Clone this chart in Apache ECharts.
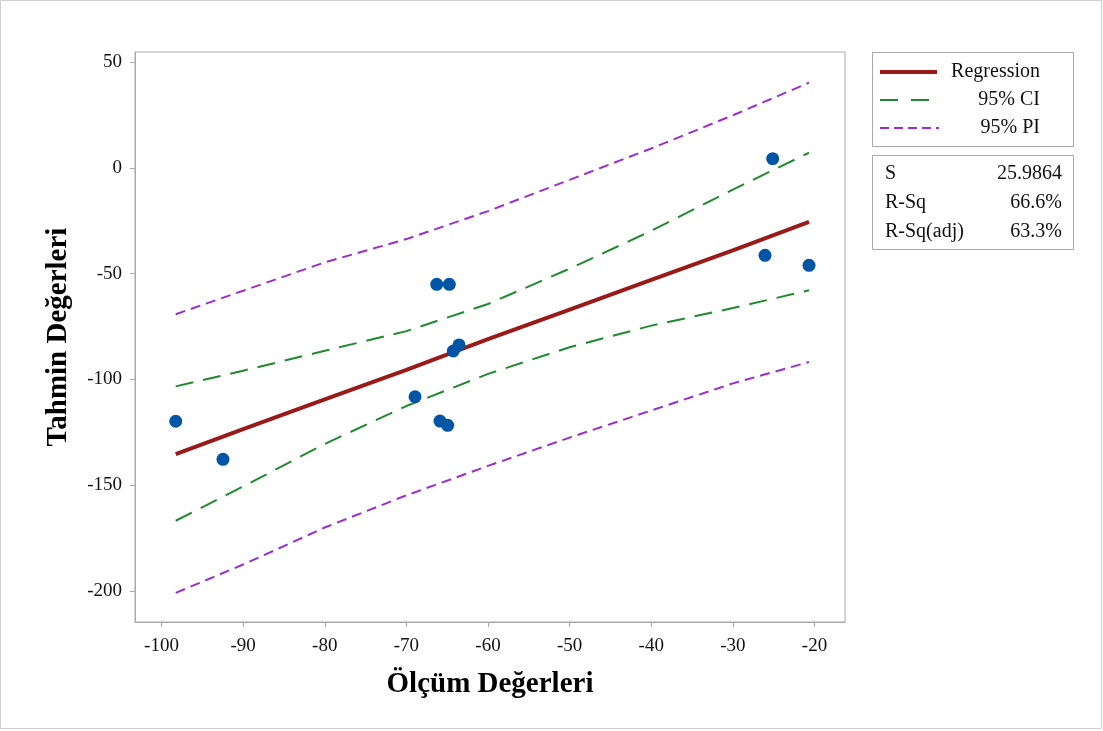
<!DOCTYPE html>
<html>
<head>
<meta charset="utf-8">
<script src="https://cdn.jsdelivr.net/npm/echarts@6/dist/echarts.min.js"></script>
<style>html,body{margin:0;padding:0;background:#fff}#c{width:1103px;height:731px}</style>
</head>
<body>
<div id="c"></div>
<script>
// ---- data ----
const obsX = [-98.26, -92.47, -68.94, -66.28, -64.74, -65.88, -64.94, -64.25, -63.55, -26.06, -25.12, -20.67];
const obsY = [-119.8, -137.8, -108.2, -55.1, -55.1, -119.7, -121.7, -86.6, -83.7, -41.4, 4.3, -46.1];
const fitX       = [-98.26, -90, -80, -70, -60, -50, -40, -30, -20.67];
const regression = [-135.3, -123.5, -109.5, -95.5, -81.0, -67.0, -53.0, -39.0, -25.6];
const ciUpper    = [-103.3, -95.9, -86.5, -77.2, -64.4, -47.7, -29.8, -10.3, 7.1];
const ciLower    = [-166.8, -150.6, -130.5, -112.6, -97.4, -84.8, -74.6, -66.3, -57.9];
const piUpper    = [-69.2, -58.1, -44.7, -33.7, -20.5, -5.7, 9.1, 24.8, 40.2];
const piLower    = [-200.9, -187.5, -170.0, -154.8, -140.9, -127.5, -114.7, -101.9, -91.8];
const xTicks = [-100, -90, -80, -70, -60, -50, -40, -30, -20];
const yTicks = [50, 0, -50, -100, -150, -200];
const legendNames = ['Regression', '95% CI', '95% PI'];
const statNames = ['S', 'R-Sq', 'R-Sq(adj)'];
const statValues = ['25.9864', '66.6%', '63.3%'];

const FONT = '"Liberation Serif", "Times New Roman", serif';
const C_REG = '#9a1a1a', C_CI = '#1f8a2e', C_PI = '#9b2dd0', C_PT = '#0055a5';

const zip = (xs, ys) => xs.map((x, i) => [x, ys[i]]);
const lineSeries = (name, ys, color, width, type) => ({
  name, type: 'line', data: zip(fitX, ys), showSymbol: false, symbol: 'none',
  lineStyle: { color, width, type }, z: 3, silent: true, animation: false
});

const chart = echarts.init(document.getElementById('c'), null, { renderer: 'canvas' });

const lx0 = 880, lx1 = 937, ly = [72, 100, 128];
const graphics = [
  { type: 'rect', shape: { x: 0.5, y: 0.5, width: 1101, height: 728 }, style: { fill: 'none', stroke: '#cfcfcf', lineWidth: 1 }, silent: true },
  { type: 'rect', shape: { x: 872.5, y: 52.5, width: 201, height: 94 }, style: { fill: '#fff', stroke: '#a8a8a8', lineWidth: 1 } },
  { type: 'line', shape: { x1: lx0, y1: ly[0], x2: lx1, y2: ly[0] }, style: { stroke: C_REG, lineWidth: 4 } },
  { type: 'line', shape: { x1: lx0, y1: ly[1], x2: lx1, y2: ly[1] }, style: { stroke: C_CI, lineWidth: 2, lineDash: [18, 13] } },
  { type: 'line', shape: { x1: lx0, y1: ly[2], x2: lx1 + 2, y2: ly[2] }, style: { stroke: C_PI, lineWidth: 2, lineDash: [9, 5] } },
  { type: 'rect', shape: { x: 872.5, y: 155.5, width: 201, height: 94 }, style: { fill: '#fff', stroke: '#a8a8a8', lineWidth: 1 } }
];
legendNames.forEach((n, i) => graphics.push({
  type: 'text', x: 1040, y: ly[i], style: { text: n, font: '20px ' + FONT, fill: '#111', align: 'right', verticalAlign: 'middle' }
}));
const sy = [174, 203, 232];
statNames.forEach((n, i) => {
  graphics.push({ type: 'text', x: 885, y: sy[i], style: { text: n, font: '20px ' + FONT, fill: '#111', align: 'left', verticalAlign: 'middle' } });
  graphics.push({ type: 'text', x: 1062, y: sy[i], style: { text: statValues[i], font: '20px ' + FONT, fill: '#111', align: 'right', verticalAlign: 'middle' } });
});

chart.setOption({
  animation: false,
  backgroundColor: '#fff',
  grid: { left: 135, top: 52, width: 710, height: 570, show: true, borderColor: '#a8a8a8', borderWidth: 1, backgroundColor: '#fff' },
  xAxis: {
    type: 'value', min: -103.25, max: -16.26,
    name: 'Ölçüm Değerleri', nameLocation: 'middle', nameGap: 48,
    nameTextStyle: { fontFamily: FONT, fontSize: 29, fontWeight: 'bold', color: '#000' },
    axisLine: { show: true, onZero: false, lineStyle: { color: '#a8a8a8', width: 1 } },
    axisTick: { show: true, length: 5, inside: false, customValues: xTicks, lineStyle: { color: '#a8a8a8' } },
    axisLabel: { customValues: xTicks, margin: 15, fontFamily: FONT, fontSize: 19, color: '#111' },
    splitLine: { show: false }
  },
  yAxis: {
    type: 'value', min: -214.65, max: 54.7,
    name: 'Tahmin Değerleri', nameLocation: 'middle', nameGap: 62,
    nameTextStyle: { fontFamily: FONT, fontSize: 29, fontWeight: 'bold', color: '#000' },
    axisLine: { show: true, onZero: false, lineStyle: { color: '#a8a8a8', width: 1 } },
    axisTick: { show: true, length: 5, inside: false, customValues: yTicks, lineStyle: { color: '#a8a8a8' } },
    axisLabel: { customValues: yTicks, margin: 13, fontFamily: FONT, fontSize: 19, color: '#111' },
    splitLine: { show: false }
  },
  series: [
    lineSeries('95% PI', piUpper, C_PI, 2, [10, 6]),
    lineSeries('95% PI', piLower, C_PI, 2, [10, 6]),
    lineSeries('95% CI', ciUpper, C_CI, 2, [18, 10]),
    lineSeries('95% CI', ciLower, C_CI, 2, [18, 10]),
    lineSeries('Regression', regression, C_REG, 4, 'solid'),
    { name: 'Data', type: 'scatter', data: zip(obsX, obsY), symbol: 'circle', symbolSize: 13,
      itemStyle: { color: C_PT, opacity: 1 }, z: 5, animation: false }
  ],
  graphic: graphics
});
</script>
</body>
</html>
